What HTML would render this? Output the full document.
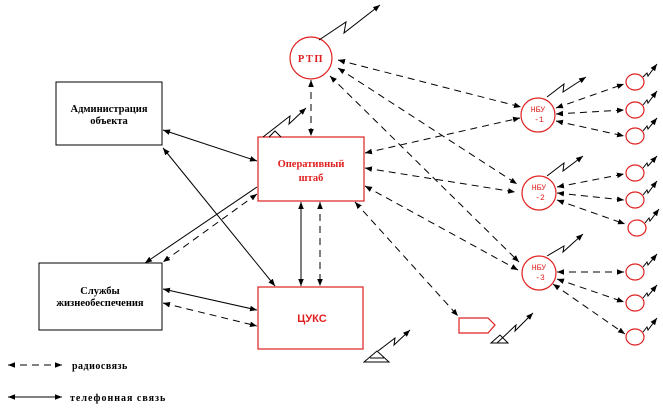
<!DOCTYPE html>
<html><head><meta charset="utf-8"><style>
html,body{margin:0;padding:0;background:#fff;width:663px;height:409px;overflow:hidden}
text{font-family:"Liberation Serif","DejaVu Serif",serif;font-weight:bold}
</style></head><body>
<svg width="663" height="409" viewBox="0 0 663 409" xmlns="http://www.w3.org/2000/svg">
<defs>
<marker id="a" viewBox="0 0 10 10" refX="10" refY="5" markerWidth="7" markerHeight="7" orient="auto-start-reverse"><path d="M0,1 L10,5 L0,9 z" fill="#000"/></marker>
</defs>
<g fill="none" stroke="#000" stroke-width="1">
<rect x="56" y="82" width="106" height="63"/>
<rect x="39" y="263" width="123" height="67"/>
</g>
<g fill="none" stroke="#e02020" stroke-width="1.2">
<rect x="258" y="137" width="106" height="64"/>
<rect x="258" y="287" width="105" height="62"/>
<circle cx="311" cy="58" r="21"/>
<ellipse cx="538" cy="115" rx="17" ry="17"/>
<ellipse cx="539" cy="193" rx="17" ry="17"/>
<ellipse cx="539" cy="273" rx="17" ry="17"/>
<ellipse cx="635" cy="82" rx="9" ry="8"/>
<ellipse cx="635" cy="110" rx="9" ry="8"/>
<ellipse cx="635" cy="136" rx="9" ry="8"/>
<ellipse cx="635" cy="173" rx="9" ry="8"/>
<ellipse cx="635" cy="200" rx="9" ry="8"/>
<ellipse cx="637" cy="228" rx="9" ry="8"/>
<ellipse cx="635" cy="272" rx="9" ry="8"/>
<ellipse cx="635" cy="303" rx="9" ry="8"/>
<ellipse cx="635" cy="337" rx="9" ry="8"/>
<path d="M459,318 H488 L495,325 L488,333 H459 Z"/>
</g>
<g fill="none" stroke="#000" stroke-width="1" marker-start="url(#a)" marker-end="url(#a)">
<line x1="163" y1="130" x2="257" y2="161"/>
<line x1="163" y1="148" x2="275" y2="286"/>
<line x1="163" y1="289" x2="257" y2="310"/>
<line x1="301" y1="202" x2="301" y2="286"/>
</g>
<g fill="none" stroke="#000" stroke-width="1">
<line x1="257" y1="187" x2="145" y2="263" marker-end="url(#a)"/>
<line x1="8" y1="397" x2="62" y2="397" marker-start="url(#a)" marker-end="url(#a)"/>
</g>
<g fill="none" stroke="#000" stroke-width="1" stroke-dasharray="7,5" marker-start="url(#a)" marker-end="url(#a)">
<line x1="257" y1="194" x2="163" y2="262"/>
<line x1="163" y1="303" x2="257" y2="326"/>
<line x1="320" y1="202" x2="320" y2="286"/>
<line x1="311" y1="80" x2="311" y2="136"/>
<line x1="338" y1="60" x2="521" y2="107"/>
<line x1="338" y1="68" x2="517" y2="184"/>
<line x1="330" y1="76" x2="519" y2="262"/>
<line x1="365" y1="153" x2="520" y2="118"/>
<line x1="365" y1="168" x2="515" y2="192"/>
<line x1="365" y1="186" x2="518" y2="270"/>
<line x1="355" y1="202" x2="458" y2="316"/>
<line x1="556" y1="108" x2="624" y2="84"/>
<line x1="556" y1="114" x2="624" y2="110"/>
<line x1="556" y1="121" x2="624" y2="136"/>
<line x1="557" y1="187" x2="624" y2="174"/>
<line x1="557" y1="193" x2="624" y2="200"/>
<line x1="557" y1="200" x2="625" y2="224"/>
<line x1="557" y1="272" x2="624" y2="272"/>
<line x1="557" y1="279" x2="624" y2="302"/>
<line x1="553" y1="284" x2="625" y2="334"/>
<line x1="8" y1="365" x2="62" y2="365"/>
</g>
<g fill="none" stroke="#000" stroke-width="1">
<path d="M319,40 L346,22 L344,33 L380,5" marker-end="url(#a)"/>
<path d="M547,97 L564,84 L563,92 L586,77" marker-end="url(#a)"/>
<path d="M547,176 L564,163 L563,171 L583,156" marker-end="url(#a)"/>
<path d="M547,256 L564,246 L563,252 L583,234" marker-end="url(#a)"/>
<path d="M643,77 L647,73 L648,76 L657,64" marker-end="url(#a)"/>
<path d="M643,105 L647,100 L648,103 L657,91" marker-end="url(#a)"/>
<path d="M643,131 L647,126 L648,129 L657,118" marker-end="url(#a)"/>
<path d="M643,168 L647,163 L648,166 L657,156" marker-end="url(#a)"/>
<path d="M643,195 L647,190 L648,193 L657,181" marker-end="url(#a)"/>
<path d="M645,223 L649,218 L650,221 L659,209" marker-end="url(#a)"/>
<path d="M643,267 L647,262 L648,265 L657,254" marker-end="url(#a)"/>
<path d="M643,298 L647,293 L648,296 L657,285" marker-end="url(#a)"/>
<path d="M643,332 L647,327 L648,330 L657,318" marker-end="url(#a)"/>
<path d="M263,137 L290,116 L289,124 L306,108" marker-end="url(#a)"/>
<path d="M269,137 L275,131 L281,137"/>
<path d="M378,351 L395,338 L394,345 L410,330" marker-end="url(#a)"/>
<path d="M364,362 L377,351 L389,362 Z"/>
<line x1="370" y1="358" x2="384" y2="358"/>
<path d="M497,343 L516,325 L515,331 L533,313" marker-end="url(#a)"/>
<path d="M491,343 L500,335 L508,343 Z"/>
</g>
<text x="109" y="112" font-size="10.5" text-anchor="middle" fill="#000">Администрация</text>
<text x="109" y="124" font-size="10.5" text-anchor="middle" fill="#000">объекта</text>
<text x="100" y="294" font-size="10.5" text-anchor="middle" fill="#000">Службы</text>
<text x="100" y="306" font-size="10.5" text-anchor="middle" fill="#000">жизнеобеспечения</text>
<text x="311" y="167" font-size="10.5" text-anchor="middle" fill="#e02020">Оперативный</text>
<text x="311" y="181" font-size="10.5" text-anchor="middle" fill="#e02020">штаб</text>
<text x="312" y="322" font-size="11" text-anchor="middle" fill="#e02020" style="font-family:'Liberation Sans',sans-serif">ЦУКС</text>
<text x="311" y="62" font-size="10.5" text-anchor="middle" fill="#e02020" letter-spacing="1.5">РТП</text>
<g font-size="8" fill="#e02020" text-anchor="middle">
<text x="538" y="112" style="font-family:'Liberation Mono',monospace;font-weight:normal">НБУ</text>
<text x="539" y="122" style="font-family:'Liberation Mono',monospace;font-weight:normal">-1</text>
<text x="539" y="190" style="font-family:'Liberation Mono',monospace;font-weight:normal">НБУ</text>
<text x="540" y="200" style="font-family:'Liberation Mono',monospace;font-weight:normal">-2</text>
<text x="539" y="270" style="font-family:'Liberation Mono',monospace;font-weight:normal">НБУ</text>
<text x="540" y="280" style="font-family:'Liberation Mono',monospace;font-weight:normal">-3</text>
</g>
<text x="72" y="369" font-size="10" fill="#000" letter-spacing="0.5">радиосвязь</text>
<text x="70" y="401" font-size="10" fill="#000" letter-spacing="1">телефонная связь</text>
</svg>
</body></html>
